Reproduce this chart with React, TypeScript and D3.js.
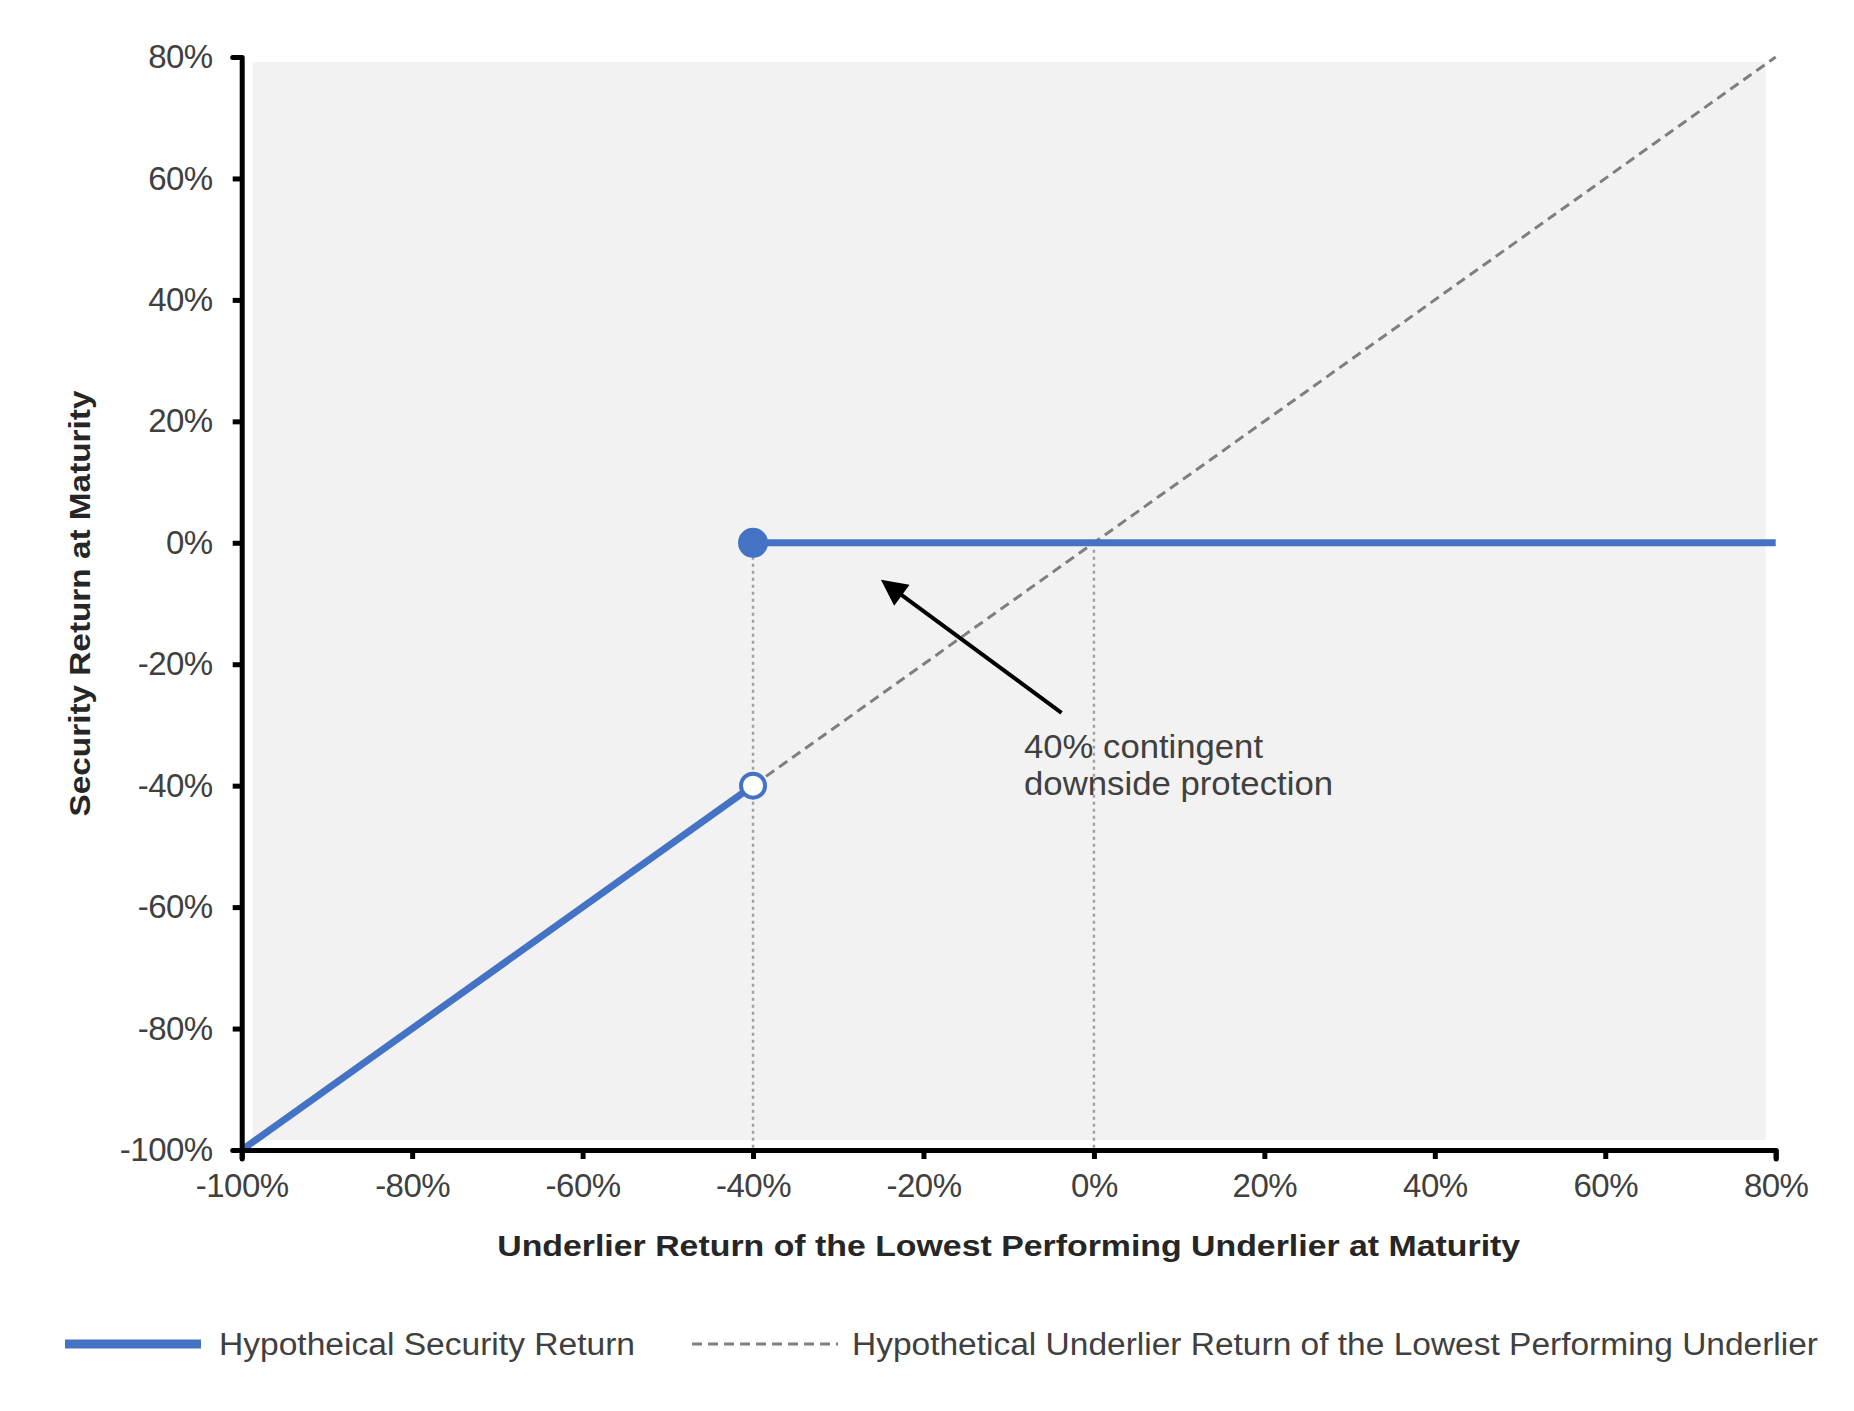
import React, { useEffect, useRef } from 'react';
import { axisBottom, axisLeft, line, scaleLinear, select } from 'd3';

const width = 1854;
const height = 1411;

// axis ticks (percent)
const xTicks = [-100, -80, -60, -40, -20, 0, 20, 40, 60, 80];
const yTicks = [-100, -80, -60, -40, -20, 0, 20, 40, 60, 80];

// payoff segments [underlier return, security return]
const securityBelow: [number, number][] = [[-100, -100], [-40, -40]];
const securityAbove: [number, number][] = [[-40, 0], [80, 0]];
const underlierLine: [number, number][] = [[-40, -40], [80, 80]];
const guideXs = [-40, 0];
const closedPoint: [number, number] = [-40, 0];
const openPoint: [number, number] = [-40, -40];

// annotation (data units)
const arrowFrom: [number, number] = [-3.8, -28];
const arrowTo: [number, number] = [-24.5, -6.6];
const noteAt: [number, number] = [-8.2, -35.5];
const noteLines = ['40% contingent', 'downside protection'];
const noteWidths = [239, 309];

const legendItems = ['Hypotheical Security Return', 'Hypothetical Underlier Return of the Lowest Performing Underlier'];

const blue = '#4472c4';
const font = '"Liberation Sans", Arial, sans-serif';

const x = scaleLinear().domain([-100, 80]).range([241.7, 1775.7]);
const y = scaleLinear().domain([-100, 80]).range([1150, 57]);
const path = line<[number, number]>()
  .x((d) => x(d[0]))
  .y((d) => y(d[1]));

const App = () => {
  const xRef = useRef<SVGGElement>(null);
  const yRef = useRef<SVGGElement>(null);

  useEffect(() => {
    const fmt = (d: any) => `${d}%`;
    const gx = select(xRef.current!);
    gx.call(axisBottom(x).tickValues(xTicks).tickFormat(fmt).tickSize(9).tickPadding(15) as any);
    const gy = select(yRef.current!);
    gy.call(axisLeft(y).tickValues(yTicks).tickFormat(fmt).tickSize(9).tickPadding(20) as any);
    [gx, gy].forEach((g) => {
      g.select('.domain').attr('stroke', '#000').attr('stroke-width', 5).attr('stroke-linejoin', 'round').attr('stroke-linecap', 'round');
      g.selectAll('.tick line').attr('stroke', '#000').attr('stroke-width', 5);
      g.selectAll('.tick text')
        .attr('fill', '#404040')
        .style('font-family', font)
        .style('font-size', '33px')
        .style('letter-spacing', '-0.5px');
    });
  }, []);

  return (
    <svg width={width} height={height} style={{ position: 'absolute', left: 0, top: 0, background: '#fff' }}>
      <defs>
        <marker id="arrow" viewBox="0 0 10 10" refX="8" refY="5" markerWidth="7" markerHeight="6.5" orient="auto-start-reverse">
          <path d="M0,0 L10,5 L0,10 z" fill="#000" />
        </marker>
      </defs>
      <rect x={x(-100) + 11} y={y(80) + 5} width={x(80) - x(-100) - 21} height={y(-100) - y(80) - 15} fill="#f2f2f2" />

      {guideXs.map((v) => (
        <line
          key={v}
          x1={x(v)}
          x2={x(v)}
          y1={y(0)}
          y2={y(-100)}
          stroke="#a0a0a0"
          strokeWidth={2.5}
          strokeDasharray="3,4"
        />
      ))}

      <path d={path(underlierLine)!} fill="none" stroke="#7f7f7f" strokeWidth={3} strokeDasharray="10,6" />
      <path d={path(securityBelow)!} fill="none" stroke={blue} strokeWidth={7} />
      <path d={path(securityAbove)!} fill="none" stroke={blue} strokeWidth={7} />
      <circle cx={x(closedPoint[0])} cy={y(closedPoint[1])} r={15} fill={blue} />
      <circle cx={x(openPoint[0])} cy={y(openPoint[1])} r={12} fill="#fff" stroke={blue} strokeWidth={4} />

      <line
        x1={x(arrowFrom[0])}
        y1={y(arrowFrom[1])}
        x2={x(arrowTo[0])}
        y2={y(arrowTo[1])}
        stroke="#000"
        strokeWidth={4}
        markerEnd="url(#arrow)"
      />
      {noteLines.map((t, i) => (
        <text
          key={t}
          x={x(noteAt[0])}
          y={y(noteAt[1]) + i * 37}
          fill="#404040"
          textLength={noteWidths[i]}
          lengthAdjust="spacingAndGlyphs"
          style={{ fontFamily: font, fontSize: 33 }}
        >
          {t}
        </text>
      ))}

      <g ref={yRef} transform={`translate(${x(-100)},0)`} />
      <g ref={xRef} transform={`translate(0,${y(-100)})`} />

      <text
        x={(x(-100) + x(80)) / 2}
        y={1256}
        textAnchor="middle"
        fill="#262626"
        textLength={1023}
        lengthAdjust="spacingAndGlyphs"
        style={{ fontFamily: font, fontSize: 30, fontWeight: 'bold' }}
      >
        Underlier Return of the Lowest Performing Underlier at Maturity
      </text>
      <text
        transform={`translate(90,${(y(80) + y(-100)) / 2}) rotate(-90)`}
        textAnchor="middle"
        fill="#262626"
        textLength={426}
        lengthAdjust="spacingAndGlyphs"
        style={{ fontFamily: font, fontSize: 29, fontWeight: 'bold' }}
      >
        Security Return at Maturity
      </text>

      <g style={{ fontFamily: font, fontSize: 31 }} fill="#404040">
        <line x1={65} x2={201} y1={1344} y2={1344} stroke={blue} strokeWidth={9} />
        <text x={219} y={1355} textLength={416} lengthAdjust="spacingAndGlyphs">
          {legendItems[0]}
        </text>
        <line x1={692} x2={838} y1={1344} y2={1344} stroke="#7f7f7f" strokeWidth={3} strokeDasharray="10,6" />
        <text x={852} y={1355} textLength={966} lengthAdjust="spacingAndGlyphs">
          {legendItems[1]}
        </text>
      </g>
    </svg>
  );
};

export default App;
